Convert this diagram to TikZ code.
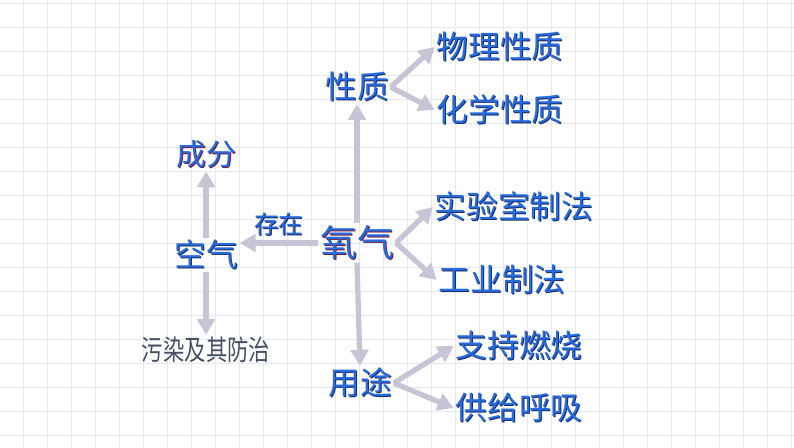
\documentclass[tikz,border=0pt]{standalone}
\usepackage{fontspec}
\usepackage{xcolor}
\usepackage{tikz}
\usetikzlibrary{arrows.meta}
\newfontfamily\cjk{Noto Sans CJK SC}
\definecolor{gridblue}{RGB}{228,234,241}
\definecolor{arrowgrey}{RGB}{200,196,214}
\definecolor{textblue}{RGB}{38,108,222}
\definecolor{navyshadow}{RGB}{30,42,100}
\definecolor{redshadow}{RGB}{120,25,50}
\definecolor{slategrey}{RGB}{70,80,100}
\newcommand\shadowed[2][navyshadow]{\rlap{\kern0.6pt\raisebox{-0.6pt}{\textcolor{#1}{#2}}}#2}

\begin{document}
\begin{tikzpicture}[x=0.02cm, y=-0.02cm,
  term/.style={inner sep=1pt, text=textblue, font=\cjk\fontsize{18}{18}\selectfont},
  link/.style={draw=arrowgrey, line width=3pt, -{Triangle[length=9pt,width=10pt]}}]
\useasboundingbox (0,0) rectangle (794,447);
% Draw grid paper
\foreach \x in {23,47,...,791} {
    \draw[gridblue, line width=0.5pt] (\x,0) -- (\x,447);
}
\foreach \y in {3,27,...,447} {
    \draw[gridblue, line width=0.5pt] (0,\y) -- (794,\y);
}

% Centre and branches
\node[term, font=\cjk\fontsize{21}{21}\selectfont] (yq) at (357,243) {\shadowed[redshadow]{氧气}};
\node[term] (xz) at (357,87) {\shadowed{性质}};
\node[term] (wl) at (500,47) {\shadowed{物理性质}};
\node[term] (hx) at (500,110) {\shadowed{化学性质}};
\node[term] (sy) at (514,207) {\shadowed{实验室制法}};
\node[term] (gy) at (502,280) {\shadowed{工业制法}};
\node[term] (yt) at (360,383) {\shadowed{用途}};
\node[term] (zc) at (519,346) {\shadowed{支持燃烧}};
\node[term] (gg) at (519,408) {\shadowed{供给呼吸}};

% Air side
\node[term] (kq) at (206,255) {\shadowed{空气}};
\node[term, font=\cjk\fontsize{17}{17}\selectfont] (cf) at (206,155) {\shadowed[redshadow]{成分}};
\node[term, text=slategrey, font=\cjk\fontsize{16}{16}\selectfont, xscale=0.76] (wr) at (206,350) {污染及其防治};

% Connecting arrows
\draw[link] (yq.north) -- (xz.south);
\draw[link] (yq.south) -- (yt.north);
\draw[link] (xz.east) -- (wl.west);
\draw[link] (xz.east) -- (hx.west);
\draw[link] (yq.east) -- (sy.west);
\draw[link] (yq.east) -- (gy.west);
\draw[link] (yt.east) -- (zc.west);
\draw[link] (yt.east) -- (gg.west);
\draw[link] (yq.west) -- (kq.east |- yq.west)
    node[midway, above=1pt, term, font=\cjk\fontsize{14}{14}\selectfont] (cz) {\shadowed{存在}};
\draw[link] (kq.north) -- (cf.south);
\draw[link] (kq.south) -- (wr.north);
\end{tikzpicture}
\end{document}
